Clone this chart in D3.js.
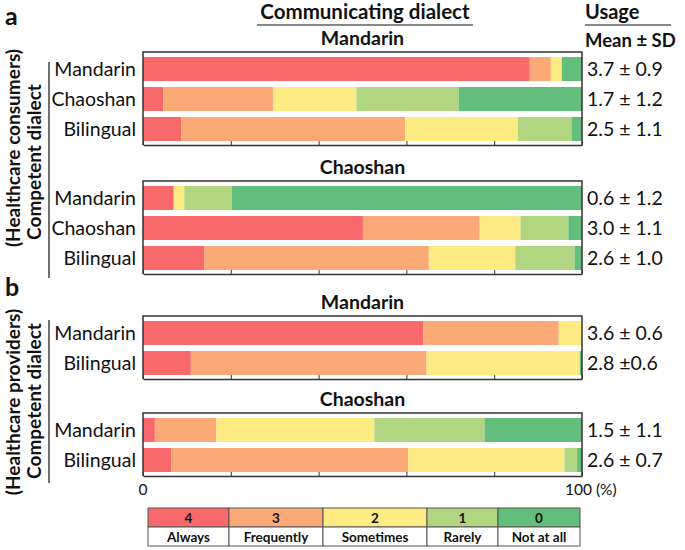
<!DOCTYPE html>
<html lang="en">
<head>
<meta charset="UTF-8">
<title>Communicating dialect usage</title>
<script src="https://cdn.jsdelivr.net/npm/d3@7"></script>
<style>
  body { margin: 0; background: #fff; font-family: Lato, "Open Sans", sans-serif; }
  svg text { fill: #111; }
</style>
</head>
<body>
<div id="chart"></div>
<script>
// usage levels (score, label)
const scores = ["4", "3", "2", "1", "0"];
const levels = ["Always", "Frequently", "Sometimes", "Rarely", "Not at all"];
const levelColors = ["#F8696B", "#FBAA77", "#FFEB84", "#B1D580", "#63BE7B"];

// competent dialect rows
const consumerRows = ["Mandarin", "Chaoshan", "Bilingual"];
const providerRows = ["Mandarin", "Bilingual"];

// percentages per row: Always, Frequently, Sometimes, Rarely, Not at all
const consumersMandarin = [[88.1, 4.8, 2.5, 0, 4.6], [4.6, 25.0, 19.0, 23.3, 28.1], [8.7, 51.0, 25.7, 12.2, 2.4]];
const consumersChaoshan = [[7.0, 0, 2.4, 10.8, 79.8], [50.1, 26.6, 9.3, 10.9, 3.1], [14.0, 51.1, 19.7, 13.5, 1.7]];
const providersMandarin = [[63.9, 30.8, 5.3, 0, 0], [10.9, 53.7, 34.9, 0, 0.5]];
const providersChaoshan = [[2.7, 14.0, 36.0, 25.1, 22.2], [6.5, 53.9, 35.6, 2.9, 1.1]];

// usage mean ± SD labels
const consumersMandarinUsage = ["3.7 ± 0.9", "1.7 ± 1.2", "2.5 ± 1.1"];
const consumersChaoshanUsage = ["0.6 ± 1.2", "3.0 ± 1.1", "2.6 ± 1.0"];
const providersMandarinUsage = ["3.6 ± 0.6", "2.8 ±0.6"];
const providersChaoshanUsage = ["1.5 ± 1.1", "2.6 ± 0.7"];

const groups = [
  { title: "Mandarin", rows: consumerRows, values: consumersMandarin, usage: consumersMandarinUsage, top: 52 },
  { title: "Chaoshan", rows: consumerRows, values: consumersChaoshan, usage: consumersChaoshanUsage, top: 181 },
  { title: "Mandarin", rows: providerRows, values: providersMandarin, usage: providersMandarinUsage, top: 316 },
  { title: "Chaoshan", rows: providerRows, values: providersChaoshan, usage: providersChaoshanUsage, top: 413 }
];

const width = 685, height = 550;
const svg = d3.select("#chart").append("svg")
  .attr("width", width).attr("height", height);

const x = d3.scaleLinear().domain([0, 100]).range([143, 582]);
const stack = d3.stack().keys(d3.range(5));
const step = 30;

groups.forEach((g, gi) => {
  const n = g.rows.length;
  const y = d3.scaleBand().domain(d3.range(n))
    .range([g.top + 2, g.top + 2 + n * step])
    .paddingInner(0.2).paddingOuter(0.1);
  const axisY = g.top + 3 + n * step;
  const layer = svg.append("g");

  const series = stack(g.values);
  series.forEach((s, k) => {
    layer.selectAll(null).data(s).enter().append("rect")
      .attr("x", d => x(d[0]))
      .attr("width", d => x(d[1]) - x(d[0]))
      .attr("y", (d, i) => y(i))
      .attr("height", y.bandwidth())
      .attr("fill", levelColors[k]);
  });

  // frame
  layer.append("path")
    .attr("d", `M${x(0)},${axisY}V${g.top}H${x(100)}V${axisY}`)
    .attr("fill", "none").attr("stroke", "#333").attr("stroke-width", 1.5);

  const ax = layer.append("g").attr("transform", `translate(0,${axisY})`)
    .call(d3.axisBottom(x).tickValues([0, 20, 40, 60, 80, 100]).tickSizeInner(-4).tickSizeOuter(0).tickFormat(""));
  ax.select(".domain").attr("stroke", "#333").attr("stroke-width", 1.5);
  ax.selectAll(".tick line").attr("stroke", "#333");

  layer.append("text")
    .attr("x", (x(0) + x(100)) / 2).attr("y", g.top - 7)
    .attr("text-anchor", "middle").attr("font-size", 19.5).attr("font-weight", "bold")
    .text(g.title);

  layer.selectAll(".rowlab").data(g.rows).enter().append("text")
    .attr("x", 136).attr("y", (d, i) => y(i) + y.bandwidth() / 2)
    .attr("dy", "0.35em").attr("text-anchor", "end").attr("font-size", 19.5)
    .text(d => d);

  layer.selectAll(".usage").data(g.usage).enter().append("text")
    .attr("x", 587).attr("y", (d, i) => y(i) + y.bandwidth() / 2)
    .attr("dy", "0.35em").attr("font-size", 19.5)
    .text(d => d);

  if (gi === groups.length - 1) {
    svg.append("text").attr("x", x(0)).attr("y", axisY + 19)
      .attr("text-anchor", "middle").attr("font-size", 15.5).text("0");
    svg.append("text").attr("x", x(100) - 17).attr("y", axisY + 19)
      .attr("font-size", 15.5).text("100 (%)");
  }
});

// headers
svg.append("text").attr("x", 5).attr("y", 25).attr("font-size", 25).attr("font-weight", "bold").text("a");
svg.append("text").attr("x", 5).attr("y", 296).attr("font-size", 25).attr("font-weight", "bold").text("b");

svg.append("text").attr("x", 365).attr("y", 19).attr("text-anchor", "middle")
  .attr("font-size", 20.5).attr("font-weight", "bold").text("Communicating dialect");
svg.append("line").attr("x1", 257).attr("x2", 473).attr("y1", 25).attr("y2", 25)
  .attr("stroke", "#111").attr("stroke-width", 1.2);

svg.append("text").attr("x", 585).attr("y", 19)
  .attr("font-size", 20).attr("font-weight", "bold").text("Usage");
svg.append("line").attr("x1", 585).attr("x2", 671).attr("y1", 25).attr("y2", 25)
  .attr("stroke", "#111").attr("stroke-width", 1.2);
svg.append("text").attr("x", 585).attr("y", 47)
  .attr("font-size", 18.5).attr("font-weight", "bold").text("Mean ± SD");

// rotated side labels
const sideLabels = [
  { lines: ["(Healthcare consumers)", "Competent dialect"], centers: [148, 162], y1: 62, y2: 278 },
  { lines: ["(Healthcare providers)", "Competent dialect"], centers: [402, 401], y1: 320, y2: 483 }
];
sideLabels.forEach(s => {
  s.lines.forEach((t, i) => {
    svg.append("text")
      .attr("transform", `translate(${i === 0 ? 20 : 41},${s.centers[i]}) rotate(-90)`)
      .attr("text-anchor", "middle").attr("font-size", 19).attr("font-weight", "bold")
      .text(t);
  });
  svg.append("line").attr("x1", 49).attr("x2", 49).attr("y1", s.y1).attr("y2", s.y2)
    .attr("stroke", "#111").attr("stroke-width", 1.2);
});

// legend
const legendEdges = [148, 229, 323, 427, 498, 580];
const legend = svg.append("g");
levels.forEach((lab, i) => {
  const x0 = legendEdges[i], x1 = legendEdges[i + 1];
  legend.append("rect").attr("x", x0).attr("y", 508).attr("width", x1 - x0).attr("height", 19)
    .attr("fill", levelColors[i]).attr("stroke", "#555").attr("stroke-width", 1);
  legend.append("rect").attr("x", x0).attr("y", 527).attr("width", x1 - x0).attr("height", 19)
    .attr("fill", "#fff").attr("stroke", "#555").attr("stroke-width", 1);
  legend.append("text").attr("x", (x0 + x1) / 2).attr("y", 522.5).attr("text-anchor", "middle")
    .attr("font-size", 13.5).attr("font-weight", "bold").text(scores[i]);
  legend.append("text").attr("x", (x0 + x1) / 2).attr("y", 541.5).attr("text-anchor", "middle")
    .attr("font-size", 13.5).attr("font-weight", "bold").text(lab);
});
</script>
</body>
</html>
